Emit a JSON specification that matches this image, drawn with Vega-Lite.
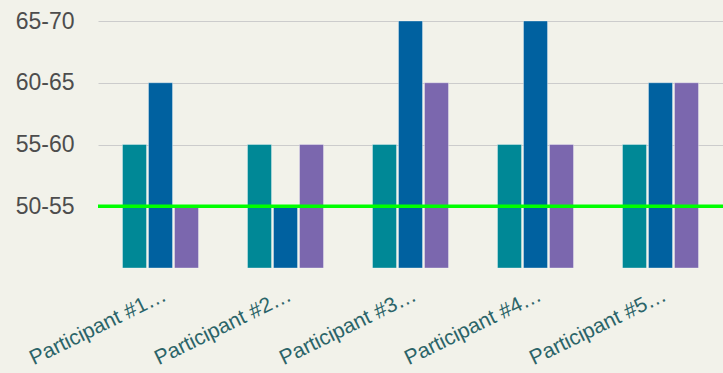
{
  "$schema": "https://vega.github.io/schema/vega-lite/v6.json",
  "autosize": "none",
  "width": 625,
  "height": 247,
  "padding": {"left": 98, "top": 21, "right": 0, "bottom": 105},
  "background": "#f2f2ea",
  "config": {
    "view": {"stroke": null},
    "font": "Liberation Sans"
  },
  "data": {
    "values": [
      {"participant": "Participant #1…", "series": "A", "level": 2},
      {"participant": "Participant #1…", "series": "B", "level": 3},
      {"participant": "Participant #1…", "series": "C", "level": 1},
      {"participant": "Participant #2…", "series": "A", "level": 2},
      {"participant": "Participant #2…", "series": "B", "level": 1},
      {"participant": "Participant #2…", "series": "C", "level": 2},
      {"participant": "Participant #3…", "series": "A", "level": 2},
      {"participant": "Participant #3…", "series": "B", "level": 4},
      {"participant": "Participant #3…", "series": "C", "level": 3},
      {"participant": "Participant #4…", "series": "A", "level": 2},
      {"participant": "Participant #4…", "series": "B", "level": 4},
      {"participant": "Participant #4…", "series": "C", "level": 2},
      {"participant": "Participant #5…", "series": "A", "level": 2},
      {"participant": "Participant #5…", "series": "B", "level": 3},
      {"participant": "Participant #5…", "series": "C", "level": 3}
    ]
  },
  "layer": [
    {
      "mark": {"type": "bar", "stroke": "#ffffff", "strokeOpacity": 0.35, "strokeWidth": 1},
      "encoding": {
        "x": {
          "field": "participant",
          "type": "nominal",
          "sort": null,
          "scale": {"paddingInner": 0.392, "paddingOuter": 0.196},
          "axis": {
            "title": null,
            "domain": false,
            "ticks": false,
            "labelAngle": -26,
            "labelAlign": "right",
            "labelBaseline": "top",
            "labelPadding": 16,
            "labelFontSize": 21,
            "labelColor": "#2b6468",
            "labelLimit": 300
          }
        },
        "xOffset": {
          "field": "series",
          "type": "nominal",
          "scale": {"paddingInner": 0.077, "paddingOuter": 0}
        },
        "y": {
          "field": "level",
          "type": "quantitative",
          "scale": {"domain": [0, 4], "nice": false},
          "axis": {
            "title": null,
            "domain": false,
            "ticks": false,
            "values": [1, 2, 3, 4],
            "labelExpr": "datum.value == 1 ? '50-55' : datum.value == 2 ? '55-60' : datum.value == 3 ? '60-65' : '65-70'",
            "labelFontSize": 23,
            "labelColor": "#4d4d4d",
            "labelPadding": 24,
            "gridColor": "#cccccc",
            "gridWidth": 1
          }
        },
        "color": {
          "field": "series",
          "type": "nominal",
          "scale": {"domain": ["A", "B", "C"], "range": ["#008896", "#0061a0", "#7b67ae"]},
          "legend": null
        }
      }
    },
    {
      "data": {"values": [{"target": 1}]},
      "mark": {"type": "rule", "color": "#00ff00", "strokeWidth": 3.5},
      "encoding": {
        "y": {"field": "target", "type": "quantitative"}
      }
    }
  ]
}
